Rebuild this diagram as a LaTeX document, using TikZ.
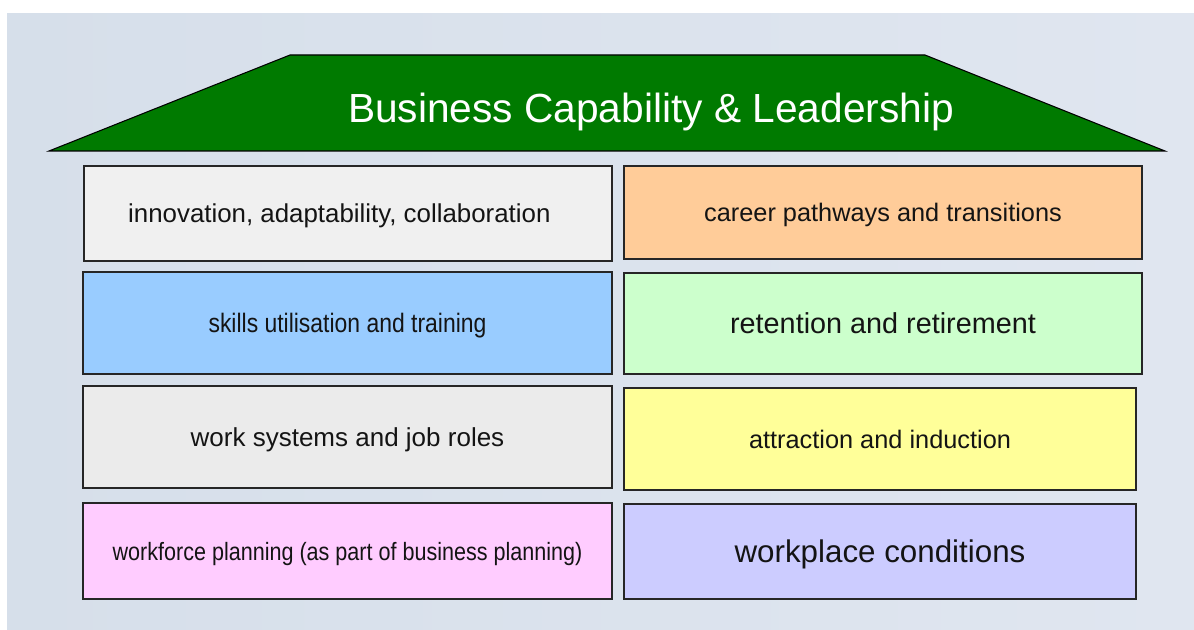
\documentclass[tikz,border=0pt]{standalone}
\usepackage{fontspec}
\setmainfont{Liberation Sans}
\newfontfamily\narrowsans[FakeStretch=0.86]{Liberation Sans}
\usetikzlibrary{
  positioning, % for relative positioning of the title
}
\definecolor{roofgreen}{RGB}{0,122,0}
\definecolor{bgleft}{RGB}{214,223,234}
\definecolor{bgright}{RGB}{224,230,240}
\newcommand{\fsize}[1]{\fontsize{#1}{1.2\dimexpr#1\relax}\selectfont}
\tikzset{
  every node/.style={
    text depth=0pt, % center on the letters, not on the descenders
  },
  cell/.style={ % style for each block of the house
    rectangle,draw=black!85,line width=1pt, % thin dark frame
    inner sep=0pt, % no padding, the size is set below
    text=black!92, % nearly black text
    align=center,
  },
  roof/.style={ % style for the green roof
    draw=black,line width=0.8pt,
    fill=roofgreen,
  },
}

\begin{document}
\begin{tikzpicture}[x=0.75pt,y=-0.75pt]

	\useasboundingbox (0,0) rectangle (1194,630);
	\fill[left color=bgleft,right color=bgright] (7,14) rectangle (1194,630);

	\draw[roof] (49,151) -- (290,55) -- (925,55) -- (1165,151) -- cycle;
	\node[text=white] (title) at (651,108) {\fsize{30.5pt}Business Capability \& Leadership};

	\node[cell,fill=black!6,minimum width=396pt,minimum height=71.25pt] (innov) at (348,213.5)
		{\fsize{19.4pt}innovation, adaptability, collaboration\hspace{13pt}};
	\node[cell,fill={rgb,255:red,255;green,204;blue,153},minimum width=388.5pt,minimum height=69.75pt] (career) at (883,212.5)
		{\fsize{19pt}career pathways and transitions};

	\node[cell,fill={rgb,255:red,153;green,204;blue,255},minimum width=396.75pt,minimum height=76.5pt] (skills) at (347.5,323)
		{\narrowsans\fsize{20pt}skills utilisation and training};
	\node[cell,fill={rgb,255:red,204;green,255;blue,204},minimum width=388.5pt,minimum height=75.75pt] (retention) at (883,323.5)
		{\fsize{21.6pt}retention and retirement};

	\node[cell,fill=black!8,minimum width=396.75pt,minimum height=76.5pt] (worksys) at (347.5,437)
		{\fsize{19.5pt}work systems and job roles};
	\node[cell,fill={rgb,255:red,255;green,255;blue,153},minimum width=384pt,minimum height=76.5pt] (attraction) at (880,439)
		{\fsize{19pt}attraction and induction};

	\node[cell,fill={rgb,255:red,255;green,204;blue,255},minimum width=396.75pt,minimum height=72pt] (planning) at (347.5,551)
		{\narrowsans\fsize{18.8pt}workforce planning (as part of business planning)};
	\node[cell,fill={rgb,255:red,204;green,204;blue,255},minimum width=384pt,minimum height=71.25pt] (conditions) at (880,551.5)
		{\fsize{23.5pt}workplace conditions};

\end{tikzpicture}
\end{document}
